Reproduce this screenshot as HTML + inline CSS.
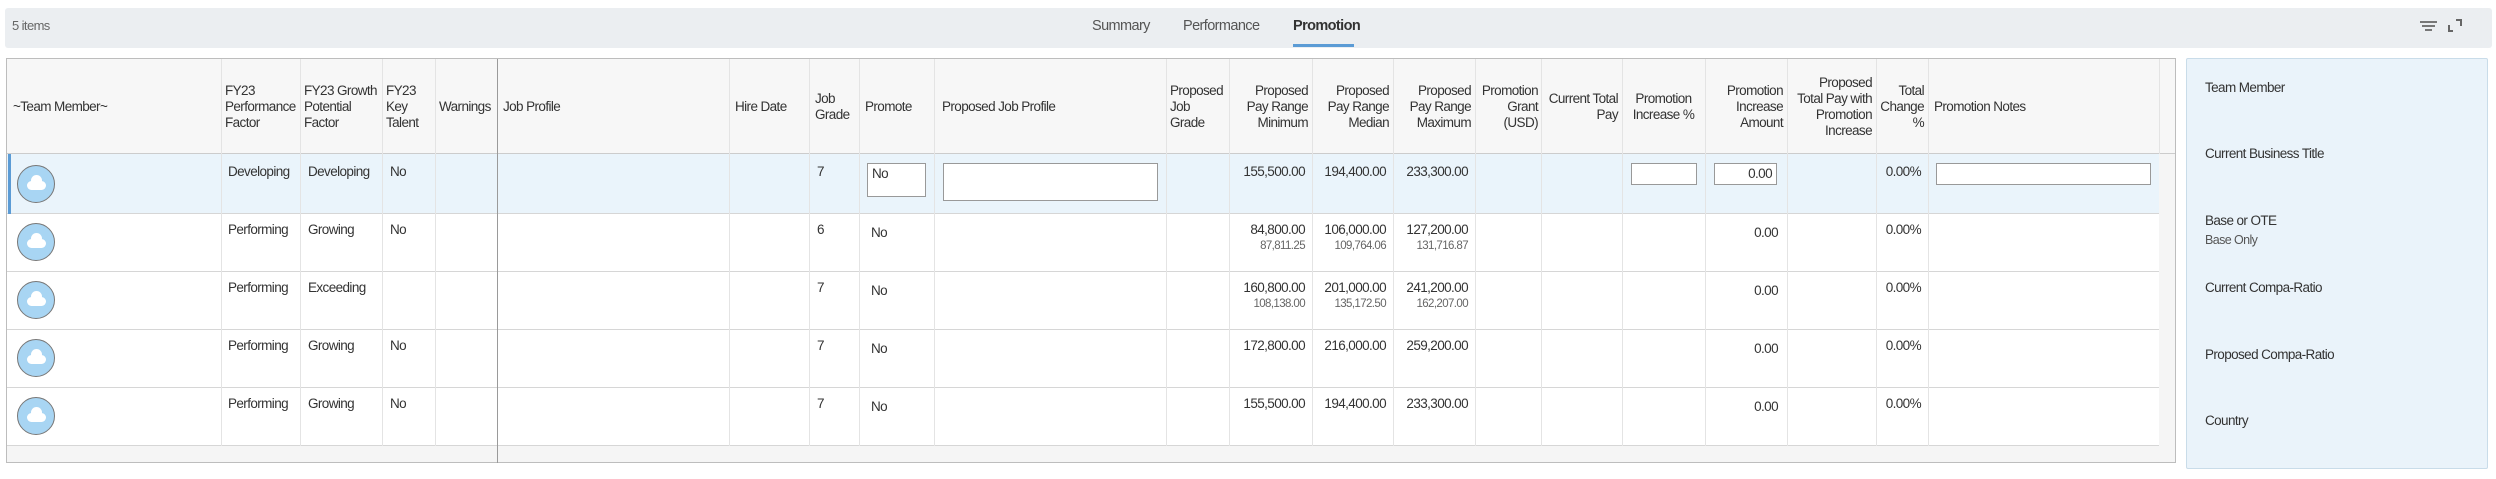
<!DOCTYPE html>
<html><head><meta charset="utf-8"><style>
*{box-sizing:border-box;margin:0;padding:0}
body{width:2496px;height:479px;background:#fff;position:relative;overflow:hidden;font-family:"Liberation Sans Narrow","Liberation Sans",sans-serif;font-size:13.5px;letter-spacing:-0.6px;color:#333}
.a{position:absolute;white-space:nowrap}
.bar{left:5px;top:8px;width:2487px;height:40px;background:#ebeef1;border-radius:3px}
.tab{top:18px;font-size:14.5px;color:#555}
.tbl{left:6px;top:58px;width:2170px;height:405px;border:1px solid #bdbdbd;background:#f5f5f5}
.hdr{top:59px;height:95px;background:#f7f7f7;border-bottom:1px solid #ccc}
.h{top:59px;height:95px;display:flex;align-items:center;padding:0 4px;line-height:16px;color:#333}
.r{justify-content:flex-end;text-align:right}
.vl{width:1px;top:59px;height:387px;background:#e4e4e4}
.row{left:7px;width:2152px;height:58px;background:#fff;border-bottom:1px solid #d6d6d6}
.c{line-height:16px}
.s{font-size:11.5px;color:#666}
.av{width:38px;height:38px;border-radius:50%;background:#a8d5f3;border:1px solid #777;left:17px}
.av:after{content:"";position:absolute;left:9px;top:15px;width:19px;height:9px;background:#fff;border-radius:5px}
.av:before{content:"";position:absolute;left:13px;top:9px;width:11px;height:11px;background:#fff;border-radius:50%}
.inp{background:#fff;border:1px solid #999;height:22px;padding:2px 4px;line-height:16px}
.pn{left:2186px;top:58px;width:302px;height:411px;background:#eaf3fa;border:1px solid #c9dce9;border-radius:2px}
.pl{left:2205px;color:#333}
</style></head><body>
<div class="a bar"></div>
<div class="a" style="left:12px;top:18px;font-size:13px;color:#666">5 items</div>
<div class="a tab" style="left:1092px">Summary</div>
<div class="a tab" style="left:1183px">Performance</div>
<div class="a tab" style="left:1293px;color:#333;font-weight:bold">Promotion</div>
<div class="a" style="left:1293px;top:44px;width:61px;height:3px;background:#5b9bd5"></div>
<div class="a" style="left:2420px;top:21px;width:17px;height:2px;background:#777"></div>
<div class="a" style="left:2422px;top:25px;width:13px;height:2px;background:#777"></div>
<div class="a" style="left:2425px;top:29px;width:7px;height:2px;background:#777"></div>
<div class="a" style="left:2448px;top:25px;width:5px;height:7px;border-left:2px solid #666;border-bottom:2px solid #666"></div>
<div class="a" style="left:2456px;top:19px;width:6px;height:7px;border-right:2px solid #666;border-top:2px solid #666"></div>

<div class="a tbl"></div>
<div class="a hdr" style="left:7px;width:2168px"></div>

<div class="a h" style="left:7px;width:214px;padding-left:6px">~Team Member~</div>
<div class="a h" style="left:221px;width:79px">FY23<br>Performance<br>Factor</div>
<div class="a h" style="left:300px;width:82px">FY23 Growth<br>Potential<br>Factor</div>
<div class="a h" style="left:382px;width:53px">FY23<br>Key<br>Talent</div>
<div class="a h" style="left:435px;width:62px">Warnings</div>
<div class="a h" style="left:497px;width:232px;padding-left:6px">Job Profile</div>
<div class="a h" style="left:729px;width:80px;padding-left:6px">Hire Date</div>
<div class="a h" style="left:809px;width:50px;padding-left:6px">Job<br>Grade</div>
<div class="a h" style="left:859px;width:75px;padding-left:6px">Promote</div>
<div class="a h" style="left:934px;width:232px;padding-left:8px">Proposed Job Profile</div>
<div class="a h" style="left:1166px;width:63px">Proposed<br>Job<br>Grade</div>
<div class="a h r" style="left:1229px;width:83px">Proposed<br>Pay Range<br>Minimum</div>
<div class="a h r" style="left:1312px;width:81px">Proposed<br>Pay Range<br>Median</div>
<div class="a h r" style="left:1393px;width:82px">Proposed<br>Pay Range<br>Maximum</div>
<div class="a h r" style="left:1475px;width:66px;padding:0 3px">Promotion<br>Grant<br>(USD)</div>
<div class="a h r" style="left:1541px;width:81px">Current Total<br>Pay</div>
<div class="a h" style="left:1622px;width:83px;justify-content:center;text-align:center">Promotion<br>Increase %</div>
<div class="a h r" style="left:1705px;width:82px">Promotion<br>Increase<br>Amount</div>
<div class="a h r" style="left:1787px;width:89px">Proposed<br>Total Pay with<br>Promotion<br>Increase</div>
<div class="a h r" style="left:1876px;width:52px">Total<br>Change<br>%</div>
<div class="a h" style="left:1928px;width:231px;padding-left:6px">Promotion Notes</div>

<!-- rows -->
<div class="a row" style="top:154px;height:60px;background:#eaf4fb"></div>
<div class="a" style="left:8px;top:154px;width:3px;height:60px;background:#5b9bd5"></div>
<div class="a row" style="top:214px"></div>
<div class="a row" style="top:272px"></div>
<div class="a row" style="top:330px"></div>
<div class="a row" style="top:388px"></div>

<!-- vertical lines -->
<div class="a vl" style="left:221px"></div><div class="a vl" style="left:300px"></div>
<div class="a vl" style="left:382px"></div><div class="a vl" style="left:435px"></div>
<div class="a" style="left:497px;top:59px;width:1px;height:404px;background:#9a9a9a"></div>
<div class="a vl" style="left:729px"></div><div class="a vl" style="left:809px"></div>
<div class="a vl" style="left:859px"></div><div class="a vl" style="left:934px"></div>
<div class="a vl" style="left:1166px"></div><div class="a vl" style="left:1229px"></div>
<div class="a vl" style="left:1312px"></div><div class="a vl" style="left:1393px"></div>
<div class="a vl" style="left:1475px"></div><div class="a vl" style="left:1541px"></div>
<div class="a vl" style="left:1622px"></div><div class="a vl" style="left:1705px"></div>
<div class="a vl" style="left:1787px"></div><div class="a vl" style="left:1876px"></div>
<div class="a vl" style="left:1928px"></div><div class="a vl" style="left:2159px;height:95px"></div>

<!-- avatars -->
<div class="a av" style="top:165px"></div>
<div class="a av" style="top:223px"></div>
<div class="a av" style="top:281px"></div>
<div class="a av" style="top:339px"></div>
<div class="a av" style="top:397px"></div>

<!-- row 1 -->
<div class="a c" style="left:228px;top:164px">Developing</div>
<div class="a c" style="left:308px;top:164px">Developing</div>
<div class="a c" style="left:390px;top:164px">No</div>
<div class="a c" style="left:817px;top:164px">7</div>
<div class="a inp" style="left:867px;top:163px;width:59px;height:34px">No</div>
<div class="a inp" style="left:943px;top:163px;width:215px;height:38px"></div>
<div class="a c" style="left:1229px;width:76px;text-align:right;top:164px">155,500.00</div>
<div class="a c" style="left:1312px;width:74px;text-align:right;top:164px">194,400.00</div>
<div class="a c" style="left:1393px;width:75px;text-align:right;top:164px">233,300.00</div>
<div class="a inp" style="left:1631px;top:163px;width:66px"></div>
<div class="a inp" style="left:1714px;top:163px;width:63px;text-align:right">0.00</div>
<div class="a c" style="left:1876px;width:45px;text-align:right;top:164px">0.00%</div>
<div class="a inp" style="left:1936px;top:163px;width:215px"></div>

<!-- row 2 -->
<div class="a c" style="left:228px;top:222px">Performing</div>
<div class="a c" style="left:308px;top:222px">Growing</div>
<div class="a c" style="left:390px;top:222px">No</div>
<div class="a c" style="left:817px;top:222px">6</div>
<div class="a c" style="left:871px;top:225px">No</div>
<div class="a c" style="left:1229px;width:76px;text-align:right;top:222px">84,800.00</div>
<div class="a c s" style="left:1229px;width:76px;text-align:right;top:238px">87,811.25</div>
<div class="a c" style="left:1312px;width:74px;text-align:right;top:222px">106,000.00</div>
<div class="a c s" style="left:1312px;width:74px;text-align:right;top:238px">109,764.06</div>
<div class="a c" style="left:1393px;width:75px;text-align:right;top:222px">127,200.00</div>
<div class="a c s" style="left:1393px;width:75px;text-align:right;top:238px">131,716.87</div>
<div class="a c" style="left:1705px;width:73px;text-align:right;top:225px">0.00</div>
<div class="a c" style="left:1876px;width:45px;text-align:right;top:222px">0.00%</div>

<!-- row 3 -->
<div class="a c" style="left:228px;top:280px">Performing</div>
<div class="a c" style="left:308px;top:280px">Exceeding</div>
<div class="a c" style="left:817px;top:280px">7</div>
<div class="a c" style="left:871px;top:283px">No</div>
<div class="a c" style="left:1229px;width:76px;text-align:right;top:280px">160,800.00</div>
<div class="a c s" style="left:1229px;width:76px;text-align:right;top:296px">108,138.00</div>
<div class="a c" style="left:1312px;width:74px;text-align:right;top:280px">201,000.00</div>
<div class="a c s" style="left:1312px;width:74px;text-align:right;top:296px">135,172.50</div>
<div class="a c" style="left:1393px;width:75px;text-align:right;top:280px">241,200.00</div>
<div class="a c s" style="left:1393px;width:75px;text-align:right;top:296px">162,207.00</div>
<div class="a c" style="left:1705px;width:73px;text-align:right;top:283px">0.00</div>
<div class="a c" style="left:1876px;width:45px;text-align:right;top:280px">0.00%</div>

<!-- row 4 -->
<div class="a c" style="left:228px;top:338px">Performing</div>
<div class="a c" style="left:308px;top:338px">Growing</div>
<div class="a c" style="left:390px;top:338px">No</div>
<div class="a c" style="left:817px;top:338px">7</div>
<div class="a c" style="left:871px;top:341px">No</div>
<div class="a c" style="left:1229px;width:76px;text-align:right;top:338px">172,800.00</div>
<div class="a c" style="left:1312px;width:74px;text-align:right;top:338px">216,000.00</div>
<div class="a c" style="left:1393px;width:75px;text-align:right;top:338px">259,200.00</div>
<div class="a c" style="left:1705px;width:73px;text-align:right;top:341px">0.00</div>
<div class="a c" style="left:1876px;width:45px;text-align:right;top:338px">0.00%</div>

<!-- row 5 -->
<div class="a c" style="left:228px;top:396px">Performing</div>
<div class="a c" style="left:308px;top:396px">Growing</div>
<div class="a c" style="left:390px;top:396px">No</div>
<div class="a c" style="left:817px;top:396px">7</div>
<div class="a c" style="left:871px;top:399px">No</div>
<div class="a c" style="left:1229px;width:76px;text-align:right;top:396px">155,500.00</div>
<div class="a c" style="left:1312px;width:74px;text-align:right;top:396px">194,400.00</div>
<div class="a c" style="left:1393px;width:75px;text-align:right;top:396px">233,300.00</div>
<div class="a c" style="left:1705px;width:73px;text-align:right;top:399px">0.00</div>
<div class="a c" style="left:1876px;width:45px;text-align:right;top:396px">0.00%</div>

<!-- right panel -->
<div class="a pn"></div>
<div class="a pl" style="top:80px">Team Member</div>
<div class="a pl" style="top:146px">Current Business Title</div>
<div class="a pl" style="top:213px">Base or OTE</div>
<div class="a pl" style="top:233px;font-size:12.5px;color:#555">Base Only</div>
<div class="a pl" style="top:280px">Current Compa-Ratio</div>
<div class="a pl" style="top:347px">Proposed Compa-Ratio</div>
<div class="a pl" style="top:413px">Country</div>
</body></html>
